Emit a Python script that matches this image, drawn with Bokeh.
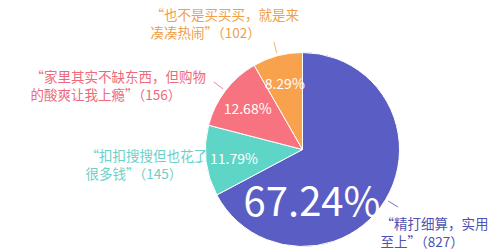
import math
from bokeh.plotting import figure
from bokeh.models import Range1d, ColumnDataSource
from bokeh.core.properties import value
from bokeh.embed import file_html
from bokeh.resources import INLINE

# ---- data ----
categories = [
    "“精打细算，实用\n至上”",
    "“扣扣搜搜但也花了\n很多钱”",
    "“家里其实不缺东西，但购物\n的酸爽让我上瘾”",
    "“也不是买买买，就是来\n凑凑热闹”",
]
counts = [827, 145, 156, 102]
slice_colors = ["#5a5ec4", "#5ed5c7", "#f6737f", "#f9a24e"]
text_colors = ["#4e52b3", "#6dd0c7", "#ee6a7c", "#f0a049"]

# ---- layout (screen px) ----
W, H = 500, 250
CX, CY, R = 302, 149, 97
FONT = "Noto Sans CJK SC"
# outer label anchors (left x, block-middle y), screen px
label_pos = [(380, 231.5), (85, 163.5), (30, 84.5), (150, 22.5)]
big_label_pos = (311.5, 198.5)

def sy(y):
    return H - y

total = sum(counts)
pcts = [c / total * 100 for c in counts]

p = figure(width=W, height=H, x_range=Range1d(0, W), y_range=Range1d(0, H),
           output_backend="svg", toolbar_location=None, min_border=0)
p.axis.visible = False
p.grid.visible = False
p.outline_line_color = None
p.background_fill_color = "white"
p.border_fill_color = "white"

# wedges: start at 12 o'clock, clockwise
starts, ends, mids = [], [], []
a = math.pi / 2
for c in counts:
    sweep = c / total * 2 * math.pi
    starts.append(a - sweep)
    ends.append(a)
    mids.append(a - sweep / 2)
    a -= sweep

src = ColumnDataSource(dict(x=[CX] * 4, y=[sy(CY)] * 4, s=starts, e=ends, color=slice_colors))
p.wedge(x="x", y="y", radius=R, radius_units="screen", start_angle="s", end_angle="e",
        fill_color="color", line_color="white", line_width=1, source=src)

# leader lines
for m, col in zip(mids, text_colors):
    x0 = CX + math.cos(m) * R * 1.03
    y0 = sy(CY) + math.sin(m) * R * 1.03
    x1 = CX + math.cos(m) * R * 1.15
    y1 = sy(CY) + math.sin(m) * R * 1.15
    p.line([x0, x1], [y0, y1], line_color=col, line_width=1, line_alpha=0.8)

# inner percentage labels (small ones)
for i in range(1, 4):
    m = mids[i]
    p.text([CX + math.cos(m) * 69], [sy(CY) + math.sin(m) * 69], text=["%.2f%%" % pcts[i]],
           text_color="white", text_font=value(FONT), text_font_size="14px",
           text_align="center", text_baseline="middle")

# big label
p.text([big_label_pos[0]], [sy(big_label_pos[1])], text=["%.2f%%" % pcts[0]],
       text_color="white", text_font=value(FONT), text_font_size="40px",
       text_align="center", text_baseline="middle")

# outer labels
for i in range(4):
    lx, ly = label_pos[i]
    p.text([lx], [sy(ly)], text=[categories[i] + "（%d）" % counts[i]],
           text_color=text_colors[i], text_font=value(FONT), text_font_size="13.5px",
           text_align="left", text_baseline="middle", text_line_height=0.92)

open("out.html", "w").write(file_html(p, INLINE))
